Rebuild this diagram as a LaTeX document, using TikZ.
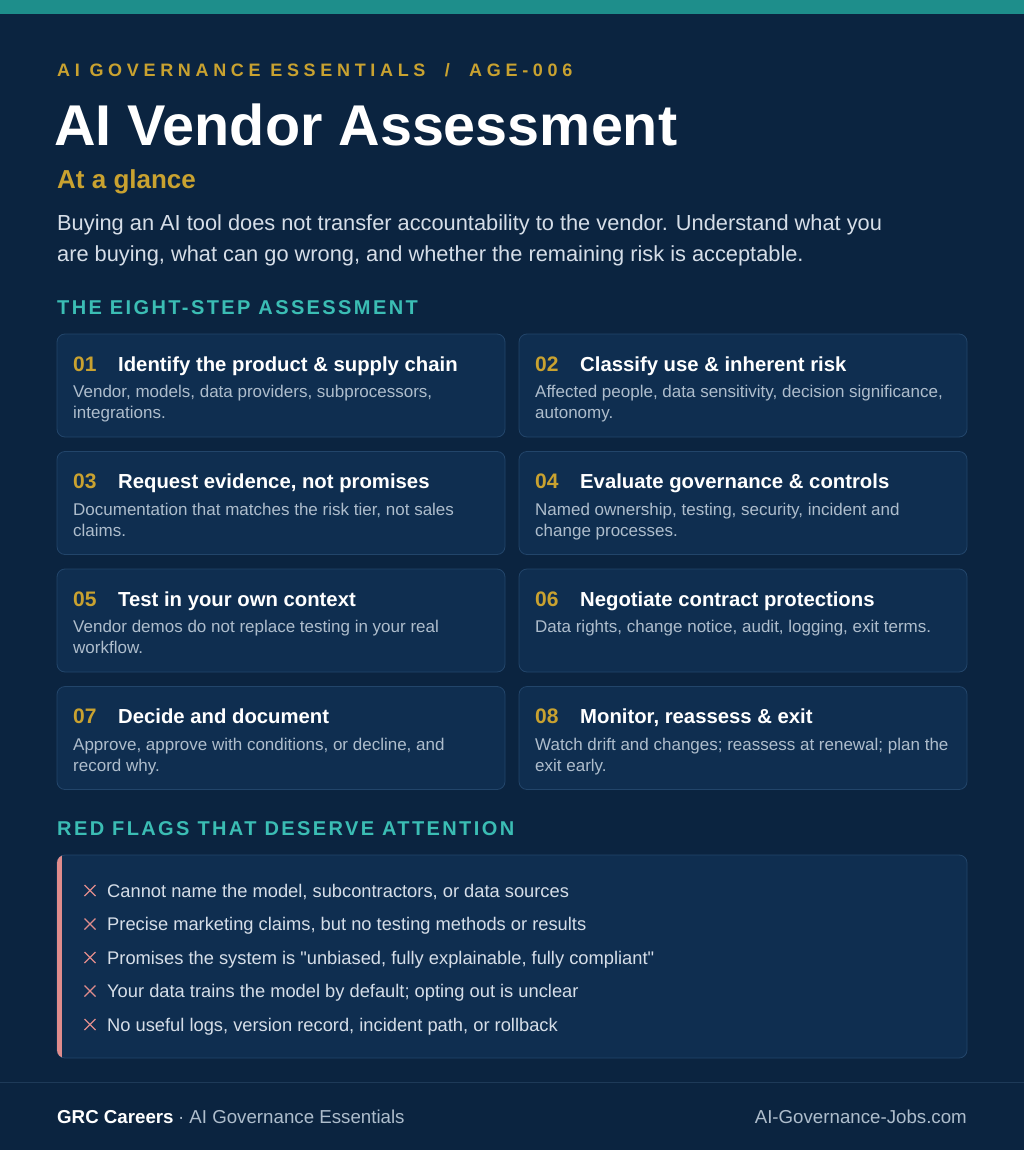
\documentclass[tikz,border=0pt]{standalone}
\usepackage{fontspec}
\setmainfont[Ligatures=TeXOff]{Liberation Sans}
\usetikzlibrary{positioning,calc}
\definecolor{navy}{HTML}{0B2440}
\definecolor{cardfill}{HTML}{0F2E50}
\definecolor{cardline}{HTML}{22456A}
\definecolor{gold}{HTML}{C9A230}
\definecolor{tealbar}{HTML}{1E8E8B}
\definecolor{tealtxt}{HTML}{3BBDB4}
\definecolor{flagred}{HTML}{E08C8C}
\definecolor{bodytxt}{HTML}{D6DEE8}
\definecolor{desctxt}{HTML}{AEBDCC}
\definecolor{footline}{HTML}{1E3A58}

\begin{document}
\begin{tikzpicture}[x=1pt, y=-1pt, every node/.style={inner sep=0pt, anchor=base west}]
    % Styles
    \tikzset{card/.style={draw=cardline, fill=cardfill, rounded corners=8pt, line width=0.8pt},
        stepnum/.style={text=gold, font=\bfseries\fontsize{21}{24}\selectfont},
        steptitle/.style={text=white, font=\bfseries\fontsize{20.3}{23}\selectfont},
        stepdesc/.style={text=desctxt, font=\fontsize{17}{21}\selectfont, align=left, anchor=north west},
        section/.style={text=tealtxt, font=\bfseries\addfontfeatures{LetterSpace=12}\fontsize{20}{23}\selectfont},
        flag/.style={text=bodytxt, font=\fontsize{18.3}{21}\selectfont},
        cross/.style={draw=flagred, line width=1.3pt}}

    % Background
    \fill[navy] (0,0) rectangle (1024,1150);
    \useasboundingbox (0,0) rectangle (1024,1150);
    \fill[tealbar] (0,0) rectangle (1024,14);

    % Header
    \node (kicker) [text=gold, font=\bfseries\addfontfeatures{LetterSpace=26}\fontsize{18}{20}\selectfont] at (57,77) {AI GOVERNANCE ESSENTIALS\ \ /\ \ AGE-006};
    \node (title) [text=white, font=\bfseries\fontsize{57.5}{60}\selectfont] at (54,146) {AI Vendor Assessment};
    \node (glance) [text=gold, font=\bfseries\fontsize{26}{30}\selectfont] at (57,189) {At a glance};
    \node (intro) [text=bodytxt, font=\fontsize{21.8}{31}\selectfont, align=left, anchor=north west] at (57,215) {Buying an AI tool does not transfer accountability to the vendor. Understand what you\\are buying, what can go wrong, and whether the remaining risk is acceptable.};

    % Steps
    \node (stephead) [section] at (57,314) {THE EIGHT-STEP ASSESSMENT};
    \foreach \n/\col/\row/\ttl/\dsc in {
        01/0/0/{Identify the product \& supply chain}/{Vendor, models, data providers, subprocessors,\\integrations.},
        02/1/0/{Classify use \& inherent risk}/{Affected people, data sensitivity, decision significance,\\autonomy.},
        03/0/1/{Request evidence, not promises}/{Documentation that matches the risk tier, not sales\\claims.},
        04/1/1/{Evaluate governance \& controls}/{Named ownership, testing, security, incident and\\change processes.},
        05/0/2/{Test in your own context}/{Vendor demos do not replace testing in your real\\workflow.},
        06/1/2/{Negotiate contract protections}/{Data rights, change notice, audit, logging, exit terms.},
        07/0/3/{Decide and document}/{Approve, approve with conditions, or decline, and\\record why.},
        08/1/3/{Monitor, reassess \& exit}/{Watch drift and changes; reassess at renewal; plan the\\exit early.}}{
        \pgfmathsetmacro{\cx}{57+462*\col}
        \pgfmathsetmacro{\cy}{334+117.5*\row}
        \draw[card] (\cx,\cy) rectangle ++(448,103);
        \node (num\n) [stepnum] at (\cx+16,\cy+37) {\n};
        \node (ttl\n) [steptitle] at (\cx+61,\cy+37) {\ttl};
        \node (dsc\n) [stepdesc] at (\cx+16,\cy+51) {\dsc};
    }

    % Red flags
    \node (flaghead) [section] at (57,835) {RED FLAGS THAT DESERVE ATTENTION};
    \draw[card] (57,855) rectangle (967,1058);
    \begin{scope}
        \clip[rounded corners=8pt] (57,855) rectangle (967,1058);
        \fill[flagred] (57,855) rectangle (61.5,1058);
    \end{scope}
    \foreach \i/\txt in {0/{Cannot name the model, subcontractors, or data sources},
        1/{Precise marketing claims, but no testing methods or results},
        2/{Promises the system is "unbiased, fully explainable, fully compliant"},
        3/{Your data trains the model by default; opting out is unclear},
        4/{No useful logs, version record, incident path, or rollback}}{
        \coordinate (x\i) at (90,890.5+33.5*\i);
        \draw[cross] ($(x\i)+(-5.5,-5.5)$) -- ($(x\i)+(5.5,5.5)$) ($(x\i)+(-5.5,5.5)$) -- ($(x\i)+(5.5,-5.5)$);
        \node (flag\i) [flag] at (107,897+33.5*\i) {\txt};
    }

    % Footer
    \draw[footline, line width=1pt] (0,1082) -- (1024,1082);
    \node (brand) [text=white, font=\bfseries\fontsize{18.7}{21}\selectfont] at (57,1123) {GRC Careers};
    \node (series) [text=desctxt, font=\fontsize{18.7}{21}\selectfont, right=4pt of brand.base east, anchor=base west] {· AI Governance Essentials};
    \node (site) [text=desctxt, font=\fontsize{18.7}{21}\selectfont, anchor=base east] at (967,1123) {AI-Governance-Jobs.com};
\end{tikzpicture}
\end{document}
